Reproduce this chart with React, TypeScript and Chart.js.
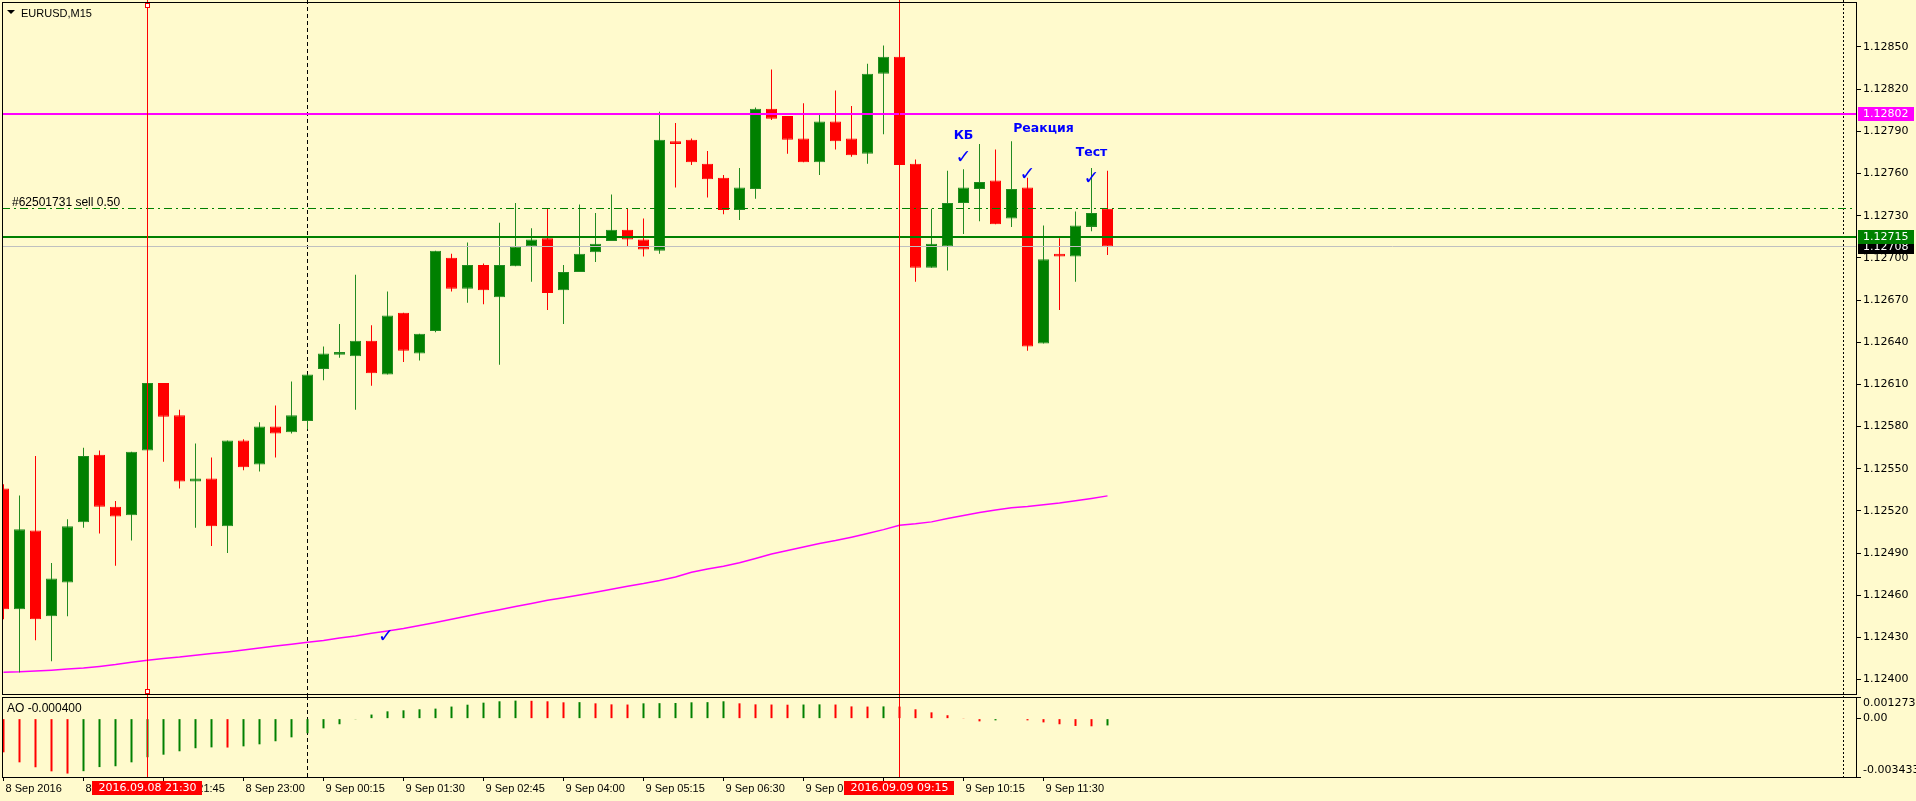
import React, { useEffect, useRef } from 'react';
import { Chart, registerables } from 'chart.js';

Chart.register(...registerables);

// ---------- data (EURUSD M15, 8 Sep 2016 19:15 .. 9 Sep 2016 12:30) ----------
const OPEN = [1.12536,1.12450,1.12506,1.12445,1.12469,1.12512,1.12560,1.12523,1.12517,1.12563,
  1.12611,1.12588,1.12541,1.12543,1.12509,1.12570,1.12553,1.12580,1.12576,1.12584,
  1.12621,1.12631,1.12630,1.12641,1.12617,1.12661,1.12632,1.12648,1.12700,1.12678,
  1.12695,1.12672,1.12694,1.12708,1.12714,1.12677,1.12690,1.12704,1.12712,1.12720,
  1.12713,1.12705,1.12783,1.12784,1.12767,1.12757,1.12734,1.12749,1.12806,1.12801,
  1.12785,1.12768,1.12797,1.12785,1.12774,1.12831,1.12843,1.12767,1.12693,1.12708,
  1.12739,1.12749,1.12755,1.12728,1.12750,1.12639,1.12703,1.12701,1.12722,1.12735];
const HIGH = [1.12539,1.12531,1.12559,1.12483,1.12514,1.12565,1.12563,1.12527,1.12562,1.12611,
  1.12611,1.12592,1.12568,1.12558,1.12570,1.12571,1.12583,1.12595,1.12612,1.12617,
  1.12637,1.12653,1.12688,1.12652,1.12676,1.12661,1.12646,1.12705,1.12703,1.12711,
  1.12696,1.12725,1.12739,1.12721,1.12735,1.12695,1.12738,1.12732,1.12745,1.12735,
  1.12728,1.12804,1.12796,1.12785,1.12776,1.12759,1.12764,1.12807,1.12834,1.12801,
  1.12810,1.12802,1.12819,1.12808,1.12838,1.12851,1.12845,1.12770,1.12735,1.12762,
  1.12763,1.12781,1.12777,1.12783,1.12757,1.12723,1.12714,1.12733,1.12764,1.12762];
const LOW = [1.12443,1.12405,1.12428,1.12413,1.12445,1.12508,1.12504,1.12481,1.12499,1.12563,
  1.12555,1.12536,1.12508,1.12495,1.12490,1.12549,1.12548,1.12558,1.12575,1.12578,
  1.12613,1.12629,1.12592,1.12609,1.12617,1.12626,1.12627,1.12647,1.12676,1.12668,
  1.12667,1.12624,1.12694,1.12683,1.12663,1.12653,1.12690,1.12697,1.12712,1.12708,
  1.12701,1.12703,1.12750,1.12766,1.12743,1.12731,1.12727,1.12742,1.12798,1.12774,
  1.12768,1.12759,1.12777,1.12772,1.12767,1.12788,1.12760,1.12683,1.12693,1.12691,
  1.12717,1.12726,1.12724,1.12722,1.12634,1.12639,1.12663,1.12683,1.12719,1.12702];
const CLOSE = [1.12450,1.12507,1.12443,1.12472,1.12509,1.12559,1.12523,1.12516,1.12562,1.12611,
  1.12587,1.12541,1.12543,1.12509,1.12570,1.12551,1.12580,1.12575,1.12588,1.12617,
  1.12632,1.12633,1.12641,1.12618,1.12659,1.12634,1.12646,1.12705,1.12678,1.12695,
  1.12677,1.12695,1.12708,1.12713,1.12675,1.12690,1.12703,1.12710,1.12720,1.12713,
  1.12706,1.12784,1.12781,1.12768,1.12756,1.12734,1.12750,1.12806,1.12799,1.12784,
  1.12768,1.12797,1.12783,1.12773,1.12831,1.12843,1.12766,1.12693,1.12710,1.12739,
  1.12750,1.12754,1.12724,1.12749,1.12637,1.12699,1.12701,1.12723,1.12732,1.12708];
const MA = [1.124052,1.124055,1.124061,1.124067,1.124075,1.124082,1.124094,1.124107,1.124123,1.124138,
  1.124150,1.124160,1.124173,1.124185,1.124197,1.124210,1.124224,1.124239,1.124251,1.124265,
  1.124279,1.124296,1.124311,1.124329,1.124345,1.124363,1.124385,1.124406,1.124429,1.124452,
  1.124475,1.124497,1.124520,1.124541,1.124564,1.124582,1.124602,1.124621,1.124642,1.124664,
  1.124683,1.124705,1.124730,1.124764,1.124786,1.124806,1.124831,1.124861,1.124893,1.124918,
  1.124943,1.124968,1.124989,1.125013,1.125039,1.125067,1.125098,1.125108,1.125122,1.125146,
  1.125167,1.125188,1.125206,1.125222,1.125231,1.125243,1.125256,1.125272,1.125289,1.125307];
const AO = [-0.00198,-0.00257,-0.00286,-0.00310,-0.00323,-0.00309,-0.00285,-0.00280,-0.00257,-0.00227,
  -0.00212,-0.00192,-0.00174,-0.00169,-0.00170,-0.00163,-0.00151,-0.00133,-0.00110,-0.00086,
  -0.00057,-0.00033,-0.00004,0.00024,0.00043,0.00049,0.00055,0.00059,0.00071,0.00082,
  0.00094,0.00102,0.00106,0.00105,0.00102,0.00096,0.00097,0.00090,0.00084,0.00083,
  0.00090,0.00091,0.00092,0.00096,0.00097,0.00102,0.00090,0.00084,0.00083,0.00082,
  0.00083,0.00084,0.00083,0.00072,0.00071,0.00072,0.00071,0.00055,0.00037,0.00020,
  0.00002,-0.00016,-0.00010,-0.00003,-0.00010,-0.00022,-0.00033,-0.00043,-0.00045,-0.00040];

const PRICE_TICKS = [1.12400,1.12430,1.12460,1.12490,1.12520,1.12550,1.12580,1.12610,
  1.12640,1.12670,1.12700,1.12730,1.12760,1.12790,1.12820,1.12850];
const PRICE_MIN = 1.1238976;
const PRICE_MAX = 1.1288201;
const AO_MIN = -0.003433;
const AO_MAX = 0.001273;
const TIME_TICKS = [0,5,10,15,20,25,30,35,40,45,50,55,60,65];
const TIME_LABELS = ['8 Sep 2016','8 Sep 20:30','8 Sep 21:45','8 Sep 23:00','9 Sep 00:15','9 Sep 01:30',
  '9 Sep 02:45','9 Sep 04:00','9 Sep 05:15','9 Sep 06:30','9 Sep 07:45','9 Sep 09:00','9 Sep 10:15','9 Sep 11:30'];
const X_MIN = -0.09375;
const X_MAX = 115.78125;

const RESIST_PRICE = 1.12802;
const ENTRY_PRICE = 1.12715;
const ORDER_PRICE = 1.12735;
const BID_PRICE = 1.12708;
const ORDER_LABEL = '#62501731 sell 0.50';
const SYMBOL_LABEL = 'EURUSD,M15';
const VLINE_INDEX = [9, 56];
const VLINE_LABELS = ['2016.09.08 21:30', '2016.09.09 09:15'];
const SEPARATOR_INDEX = [19];
const SHIFT_INDEX = 115;
const NOTE_TEXT = ['КБ', 'Реакция', 'Тест'];
const NOTE_X = [60, 65, 68];
const NOTE_Y = [1.12787, 1.12792, 1.12775];
const CHECK_X = [60, 64, 68, 23.9];
const CHECK_Y = [1.12771, 1.12759, 1.12756, 1.12430];

// ---------- styles ----------
const BG = '#fffacd';
const UP_FILL = '#008000';
const UP_LINE = '#228b22';
const DOWN = '#ff0000';
const MAGENTA = '#ff00ff';
const BLUE = '#0000ff';
const AXIS_FONT = 'DejaVu Sans';
const UI_FONT = 'Liberation Sans';

const crisp = (v: number) => Math.floor(v) + 0.5;

function vLine(ctx: any, x: number, y0: number, y1: number) {
  ctx.beginPath();
  ctx.moveTo(x, y0);
  ctx.lineTo(x, y1);
  ctx.stroke();
}

function drawSeparators(chart: any, bottom: number) {
  const { ctx } = chart;
  const xs = chart.scales.x;
  ctx.save();
  ctx.strokeStyle = '#000';
  ctx.lineWidth = 1;
  ctx.setLineDash([4, 3]);
  SEPARATOR_INDEX.forEach((i) => vLine(ctx, crisp(xs.getPixelForValue(i)), 0, bottom));
  ctx.setLineDash([2, 2]);
  vLine(ctx, crisp(xs.getPixelForValue(SHIFT_INDEX)), 0, bottom);
  ctx.restore();
}

function drawRedLines(chart: any, y0: number, y1: number) {
  const { ctx } = chart;
  const xs = chart.scales.x;
  ctx.save();
  ctx.strokeStyle = DOWN;
  ctx.lineWidth = 1;
  VLINE_INDEX.forEach((i) => vLine(ctx, crisp(xs.getPixelForValue(i)), y0, y1));
  ctx.restore();
}

function drawFrame(chart: any) {
  const { ctx, chartArea: a } = chart;
  ctx.save();
  ctx.strokeStyle = '#000';
  ctx.lineWidth = 1;
  ctx.strokeRect(a.left + 0.5, a.top + 0.5, a.right - a.left, a.bottom - a.top);
  ctx.restore();
}

function priceBox(ctx: any, a: any, y: number, price: number, fill: string) {
  ctx.fillStyle = fill;
  ctx.fillRect(a.right + 2, Math.round(y) - 7, 56, 14);
  ctx.fillStyle = '#fff';
  ctx.font = `11px "${AXIS_FONT}"`;
  ctx.textAlign = 'left';
  ctx.textBaseline = 'middle';
  ctx.fillText(price.toFixed(5), a.right + 7, Math.round(y));
}

const mainPlugin = {
  id: 'mt4main',
  beforeDatasetsDraw(chart: any) {
    drawSeparators(chart, chart.height);
  },
  afterDatasetsDraw(chart: any) {
    const { ctx, chartArea: a } = chart;
    const xs = chart.scales.x;
    const ys = chart.scales.y;
    ctx.save();
    ctx.beginPath();
    ctx.rect(a.left, a.top, a.right - a.left, a.bottom - a.top);
    ctx.clip();
    // horizontal lines
    const yBid = crisp(ys.getPixelForValue(BID_PRICE));
    ctx.strokeStyle = '#c0c0c0';
    ctx.lineWidth = 1;
    ctx.beginPath(); ctx.moveTo(a.left, yBid); ctx.lineTo(a.right, yBid); ctx.stroke();
    const yOrder = crisp(ys.getPixelForValue(ORDER_PRICE));
    ctx.strokeStyle = UP_FILL;
    ctx.setLineDash([8, 4, 2, 4]);
    ctx.beginPath(); ctx.moveTo(a.left, yOrder); ctx.lineTo(a.right, yOrder); ctx.stroke();
    ctx.setLineDash([]);
    ctx.fillStyle = UP_FILL;
    ctx.fillRect(a.left, Math.round(ys.getPixelForValue(ENTRY_PRICE)) - 1, a.right - a.left, 2);
    ctx.fillStyle = MAGENTA;
    ctx.fillRect(a.left, Math.round(ys.getPixelForValue(RESIST_PRICE)) - 1, a.right - a.left, 2);
    // order label
    ctx.fillStyle = '#000';
    ctx.font = `12px "${UI_FONT}"`;
    ctx.textAlign = 'left';
    ctx.textBaseline = 'alphabetic';
    ctx.fillText(ORDER_LABEL, a.left + 10, yOrder - 2.5);
    // symbol header
    ctx.beginPath();
    ctx.moveTo(a.left + 5, a.top + 8);
    ctx.lineTo(a.left + 13, a.top + 8);
    ctx.lineTo(a.left + 9, a.top + 12);
    ctx.closePath();
    ctx.fill();
    ctx.font = `11px "${UI_FONT}"`;
    ctx.fillText(SYMBOL_LABEL, a.left + 19, a.top + 14.5);
    // notes
    ctx.fillStyle = BLUE;
    ctx.textAlign = 'center';
    ctx.textBaseline = 'middle';
    ctx.font = `bold 12.5px "${AXIS_FONT}"`;
    NOTE_TEXT.forEach((t, i) => ctx.fillText(t, xs.getPixelForValue(NOTE_X[i]), ys.getPixelForValue(NOTE_Y[i])));
    ctx.font = `bold 19px "${AXIS_FONT}"`;
    CHECK_X.forEach((x, i) => ctx.fillText('✓', xs.getPixelForValue(x), ys.getPixelForValue(CHECK_Y[i])));
    ctx.restore();

    drawRedLines(chart, 0, chart.height);
    // selection markers on the first vertical line
    const xm = crisp(xs.getPixelForValue(VLINE_INDEX[0]));
    ctx.save();
    ctx.strokeStyle = DOWN;
    ctx.fillStyle = '#fff';
    [a.top + 1, a.bottom - 5].forEach((y) => {
      ctx.fillRect(xm - 2, y + 0.5, 4, 4);
      ctx.strokeRect(xm - 2, y + 0.5, 4, 4);
    });
    ctx.restore();
    drawFrame(chart);
  },
  afterDraw(chart: any) {
    const { ctx, chartArea: a } = chart;
    const ys = chart.scales.y;
    ctx.save();
    priceBox(ctx, a, ys.getPixelForValue(BID_PRICE), BID_PRICE, '#000');
    priceBox(ctx, a, ys.getPixelForValue(ENTRY_PRICE), ENTRY_PRICE, UP_FILL);
    priceBox(ctx, a, ys.getPixelForValue(RESIST_PRICE), RESIST_PRICE, MAGENTA);
    ctx.restore();
  },
};

const aoPlugin = {
  id: 'mt4ao',
  beforeDatasetsDraw(chart: any) {
    drawSeparators(chart, chart.chartArea.bottom);
  },
  afterDatasetsDraw(chart: any) {
    const { ctx, chartArea: a } = chart;
    drawRedLines(chart, 0, a.bottom);
    drawFrame(chart);
    ctx.save();
    ctx.fillStyle = '#000';
    ctx.font = `12px "${UI_FONT}"`;
    ctx.textAlign = 'left';
    ctx.textBaseline = 'alphabetic';
    ctx.fillText('AO ' + AO[AO.length - 1].toFixed(6), a.left + 5, a.top + 14.5);
    ctx.restore();
  },
  afterDraw(chart: any) {
    const { ctx, chartArea: a } = chart;
    const xs = chart.scales.x;
    ctx.save();
    ctx.font = `11px "${AXIS_FONT}"`;
    ctx.textAlign = 'center';
    ctx.textBaseline = 'middle';
    VLINE_INDEX.forEach((idx, k) => {
      const x = xs.getPixelForValue(idx);
      const w = ctx.measureText(VLINE_LABELS[k]).width + 12;
      ctx.fillStyle = DOWN;
      ctx.fillRect(Math.round(x - w / 2), a.bottom + 4, Math.round(w), 14);
      ctx.fillStyle = '#fff';
      ctx.fillText(VLINE_LABELS[k], x, a.bottom + 11.5);
    });
    ctx.restore();
  },
};

function mainConfig(): any {
  const up = CLOSE.map((c, i) => c >= OPEN[i]);
  return {
    type: 'bar',
    data: {
      datasets: [
        {
          label: 'body',
          data: OPEN.map((o, i) => ({ x: i, y: [Math.min(o, CLOSE[i]), Math.max(o, CLOSE[i])] })),
          backgroundColor: up.map((u) => (u ? UP_FILL : DOWN)),
          borderColor: up.map((u) => (u ? UP_LINE : DOWN)),
          borderWidth: 1,
          borderSkipped: false,
          barThickness: 11,
          grouped: false,
          minBarLength: 1,
          inflateAmount: 0,
        },
        {
          label: 'wick',
          data: HIGH.map((h, i) => ({ x: i, y: [LOW[i], h] })),
          backgroundColor: up.map((u) => (u ? UP_LINE : DOWN)),
          borderWidth: 0,
          barThickness: 1,
          grouped: false,
          inflateAmount: 0,
        },
        {
          type: 'line',
          label: 'MA',
          data: MA.map((v, i) => ({ x: i, y: v })),
          borderColor: MAGENTA,
          borderWidth: 1.5,
          pointRadius: 0,
          tension: 0,
        },
      ],
    },
    options: {
      responsive: false,
      devicePixelRatio: 1,
      animation: false,
      events: [],
      layout: { padding: { left: 2, top: 2, right: 0, bottom: 2 } },
      plugins: { legend: { display: false }, tooltip: { enabled: false } },
      scales: {
        x: { type: 'linear', min: X_MIN, max: X_MAX, display: false, offset: false, grid: { offset: false } },
        y: {
          type: 'linear',
          position: 'right',
          min: PRICE_MIN,
          max: PRICE_MAX,
          afterBuildTicks: (s: any) => { s.ticks = PRICE_TICKS.map((v) => ({ value: v })); },
          afterFit: (s: any) => { s.width = 60; s.paddingTop = 0; s.paddingBottom = 0; },
          ticks: {
            autoSkip: false,
            color: '#000',
            padding: 2,
            font: { family: AXIS_FONT, size: 11 },
            callback: (v: any) => Number(v).toFixed(5),
          },
          grid: { drawOnChartArea: false, drawTicks: true, tickLength: 5, color: '#000' },
          border: { display: false },
        },
      },
    },
    plugins: [mainPlugin],
  };
}

function aoConfig(): any {
  const colors = AO.map((v, i) => (i > 0 && v > AO[i - 1] ? UP_FILL : DOWN));
  const aoTicks = [AO_MIN, 0, AO_MAX];
  return {
    type: 'bar',
    data: {
      datasets: [
        {
          label: 'AO',
          data: AO.map((v, i) => ({ x: i, y: v })),
          backgroundColor: colors,
          borderWidth: 0,
          barThickness: 2,
          grouped: false,
          inflateAmount: 0,
        },
      ],
    },
    options: {
      responsive: false,
      devicePixelRatio: 1,
      animation: false,
      events: [],
      layout: { padding: { left: 2, top: 1, right: 0, bottom: 0 } },
      plugins: { legend: { display: false }, tooltip: { enabled: false } },
      scales: {
        x: {
          type: 'linear',
          min: X_MIN,
          max: X_MAX,
          offset: false,
          position: 'bottom',
          afterBuildTicks: (s: any) => { s.ticks = TIME_TICKS.map((v) => ({ value: v })); },
          afterFit: (s: any) => { s.height = 24; s.paddingLeft = 0; s.paddingRight = 0; },
          ticks: {
            autoSkip: false,
            maxRotation: 0,
            minRotation: 0,
            align: 'start',
            labelOffset: 2,
            padding: 1,
            color: '#000',
            font: { family: UI_FONT, size: 11 },
            callback: (_v: any, i: number) => TIME_LABELS[i],
          },
          grid: { drawOnChartArea: false, drawTicks: true, tickLength: 4, color: '#000', offset: false },
          border: { display: false },
        },
        y: {
          type: 'linear',
          position: 'right',
          min: AO_MIN,
          max: AO_MAX,
          afterBuildTicks: (s: any) => { s.ticks = aoTicks.map((v) => ({ value: v })); },
          afterFit: (s: any) => { s.width = 60; s.paddingTop = 0; s.paddingBottom = 0; },
          ticks: {
            autoSkip: false,
            color: '#000',
            padding: 2,
            font: { family: AXIS_FONT, size: 11 },
            callback: (v: any, i: number) => {
              if (i === 0) return [Number(v).toFixed(6), ''];
              if (i === aoTicks.length - 1) return ['', Number(v).toFixed(6)];
              return '0.00';
            },
          },
          grid: { drawOnChartArea: false, drawTicks: true, tickLength: 5, color: '#000' },
          border: { display: false },
        },
      },
    },
    plugins: [aoPlugin],
  };
}

export default function App() {
  const mainRef = useRef<HTMLCanvasElement>(null);
  const aoRef = useRef<HTMLCanvasElement>(null);

  useEffect(() => {
    const c1 = new Chart(mainRef.current as HTMLCanvasElement, mainConfig());
    const c2 = new Chart(aoRef.current as HTMLCanvasElement, aoConfig());
    return () => {
      c1.destroy();
      c2.destroy();
    };
  }, []);

  return (
    <div style={{ position: 'absolute', left: 0, top: 0, width: 1916, height: 801, background: BG, overflow: 'hidden' }}>
      <canvas ref={mainRef} width={1916} height={696} style={{ position: 'absolute', left: 0, top: 0, width: 1916, height: 696 }} />
      <canvas ref={aoRef} width={1916} height={105} style={{ position: 'absolute', left: 0, top: 696, width: 1916, height: 105 }} />
    </div>
  );
}
